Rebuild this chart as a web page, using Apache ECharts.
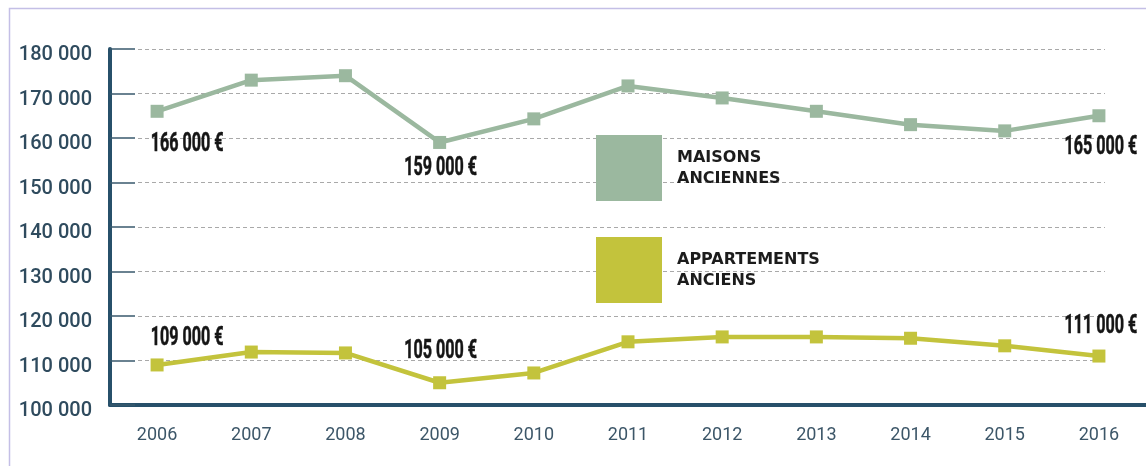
<!DOCTYPE html>
<html>
<head>
<meta charset="utf-8">
<script src="https://cdn.jsdelivr.net/npm/echarts@6/dist/echarts.min.js"></script>
<style>
  html, body { margin: 0; padding: 0; background: #ffffff; }
  #chart { width: 1146px; height: 466px; }
</style>
</head>
<body>
<div id="chart"></div>
<script>
// Prix médians, 2006-2016
const years = ['2006', '2007', '2008', '2009', '2010', '2011', '2012', '2013', '2014', '2015', '2016'];
const maisons = [166000, 173000, 174000, 159000, 164300, 171700, 169000, 166000, 163000, 161600, 165000];
const appartements = [109000, 111900, 111700, 105000, 107200, 114200, 115300, 115300, 115000, 113300, 111000];
const seriesNames = ['MAISONS\nANCIENNES', 'APPARTEMENTS\nANCIENS'];
const yMin = 100000;
const yMax = 180000;
const yStep = 10000;
// Years whose value is written next to the point
const labelledYears = ['2006', '2009', '2016'];

const colors = { maisons: '#9bb89f', appartements: '#c3c33c' };
const axisColor = '#27506a';
const labelColor = '#2f4b5e';

// "166 000" style grouping
function group(v) {
  return String(Math.round(v)).replace(/\B(?=(\d{3})+(?!\d))/g, ' ');
}

// label placement around the point (dx, dy), per year
const offsetsMaisons = { '2006': [30, 33], '2009': [1, 26], '2016': [2, 32] };
const offsetsApparts = { '2006': [30, -26], '2009': [1, -31], '2016': [2, -30] };

// Value labels drawn as condensed text next to their point
function valueLabels(values, offsets) {
  return {
    type: 'custom',
    xAxisIndex: 0,
    yAxisIndex: 0,
    silent: true,
    z: 10,
    data: labelledYears.map(function (y) { return [y, values[years.indexOf(y)]]; }),
    renderItem: function (params, api) {
      const idx = api.value(0);
      const v = api.value(1);
      const p = api.coord([idx, v]);
      const off = offsets[years[idx]];
      return {
        type: 'text',
        x: p[0] + off[0],
        y: p[1] + off[1],
        scaleX: 0.62,
        style: {
          text: group(v) + ' €',
          fill: '#151515',
          stroke: '#151515',
          lineWidth: 0.6,
          font: 'bold 26px Roboto, sans-serif',
          align: 'center',
          verticalAlign: 'middle'
        }
      };
    }
  };
}

const chart = echarts.init(document.getElementById('chart'), null, { renderer: 'canvas' });

chart.setOption({
  animation: false,
  backgroundColor: '#ffffff',
  tooltip: { show: false },
  graphic: [{
    type: 'rect',
    shape: { x: 9.5, y: 8.5, width: 1200, height: 500 },
    style: { fill: 'none', stroke: '#c4bfe6', lineWidth: 1.5 },
    silent: true,
    z: -10
  }],
  legend: {
    orient: 'vertical',
    left: 596,
    top: 135,
    padding: 0,
    icon: 'rect',
    itemWidth: 66,
    itemHeight: 66,
    itemGap: 36,
    selectedMode: false,
    data: seriesNames,
    textStyle: {
      fontFamily: '"DejaVu Sans", sans-serif',
      fontWeight: 'bold',
      fontSize: 16,
      lineHeight: 21,
      color: '#1c1c1c',
      padding: [0, 0, 0, 10]
    }
  },
  grid: [
    { left: 110, right: -5, top: 49, bottom: 61 },
    { left: 138, right: 41, top: 49, bottom: 61 }
  ],
  xAxis: [{
    type: 'category',
    gridIndex: 0,
    data: years,
    boundaryGap: true,
    axisLine: { lineStyle: { color: axisColor, width: 4 } },
    axisTick: { inside: true, alignWithLabel: true, length: 8, lineStyle: { color: '#4a4a4a', width: 1 } },
    axisLabel: {
      margin: 21,
      fontFamily: 'Roboto, sans-serif',
      fontSize: 18,
      color: '#3c5668'
    },
    splitLine: { show: false }
  }, {
    type: 'category',
    gridIndex: 1,
    data: years,
    show: false
  }],
  yAxis: [{
    type: 'value',
    gridIndex: 0,
    min: yMin,
    max: yMax,
    interval: yStep,
    axisLine: { show: true, lineStyle: { color: axisColor, width: 4 } },
    axisTick: { show: true, inside: true, length: 25, lineStyle: { color: '#3a5a6e', width: 1.5 } },
    axisLabel: {
      margin: 18,
      fontFamily: 'Roboto, sans-serif',
      fontWeight: 500,
      fontSize: 20,
      color: labelColor,
      verticalAlign: 'top',
      lineHeight: 12,
      formatter: function (v) { return group(v); }
    },
    splitLine: { show: false },
    z: 5
  }, {
    type: 'value',
    gridIndex: 1,
    min: yMin,
    max: yMax,
    interval: yStep,
    axisLine: { show: false },
    axisTick: { show: false },
    axisLabel: { show: false },
    splitLine: { show: true, lineStyle: { color: '#a9a9a9', type: [4, 3], width: 1 } },
    z: 0
  }],
  series: [{
    name: seriesNames[0],
    type: 'line',
    xAxisIndex: 0,
    yAxisIndex: 0,
    data: maisons,
    symbol: 'rect',
    symbolSize: 13,
    lineStyle: { color: colors.maisons, width: 4.5 },
    itemStyle: { color: colors.maisons },
    z: 3
  }, {
    name: seriesNames[1],
    type: 'line',
    xAxisIndex: 0,
    yAxisIndex: 0,
    data: appartements,
    symbol: 'rect',
    symbolSize: 13,
    lineStyle: { color: colors.appartements, width: 4.5 },
    itemStyle: { color: colors.appartements },
    z: 3
  },
  valueLabels(maisons, offsetsMaisons),
  valueLabels(appartements, offsetsApparts)]
});
</script>
</body>
</html>
